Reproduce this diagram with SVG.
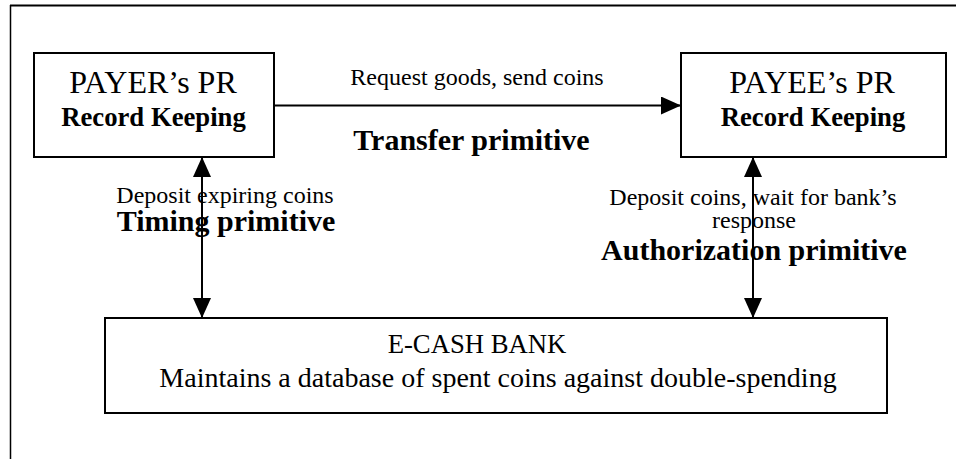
<svg xmlns="http://www.w3.org/2000/svg" width="956" height="459" viewBox="0 0 956 459">
  <style>
    text { font-family: "Liberation Serif", "Times New Roman", serif; fill: #000; text-anchor: middle; }
    .box { fill: #fff; stroke: #000; stroke-width: 2; }
    .frame { fill: none; stroke: #000; }
    .link { fill: none; stroke: #000; stroke-width: 2; }
    .title { font-size: 32px; }
    .sub { font-size: 26.7px; font-weight: bold; }
    .lbl { font-size: 24px; }
    .prim { font-size: 30px; font-weight: bold; }
    .bank { font-size: 26.7px; }
    .bank2 { font-size: 28px; }
  </style>
  <defs>
    <marker id="head" viewBox="0 0 20 18" refX="20" refY="9" markerWidth="20" markerHeight="18" markerUnits="userSpaceOnUse" orient="auto-start-reverse">
      <path d="M0,0 L20,9 L0,18 Z" fill="#000"/>
    </marker>
  </defs>

  <!-- page frame -->
  <g id="frame">
    <line class="frame" x1="10" y1="5.5" x2="956" y2="5.5" stroke-width="2"/>
    <line class="frame" x1="10.5" y1="5" x2="10.5" y2="459" stroke-width="1.5"/>
  </g>

  <!-- connectors -->
  <g id="connectors">
    <line class="link" x1="274" y1="105.5" x2="681" y2="105.5" marker-end="url(#head)"/>
    <line class="link" x1="202" y1="157" x2="202" y2="318" marker-start="url(#head)" marker-end="url(#head)"/>
    <line class="link" x1="753" y1="157" x2="753" y2="318" marker-start="url(#head)" marker-end="url(#head)"/>
  </g>

  <!-- connector labels -->
  <g id="labels">
    <text class="lbl" x="477" y="85">Request goods, send coins</text>
    <text class="prim" x="471.5" y="150">Transfer primitive</text>
    <text class="lbl" x="225" y="203">Deposit expiring coins</text>
    <text class="prim" x="226" y="231">Timing primitive</text>
    <text class="lbl" x="753" y="205">Deposit coins, wait for bank’s</text>
    <text class="lbl" x="754" y="228">response</text>
    <text class="prim" x="754" y="260">Authorization primitive</text>
  </g>

  <g id="payer">
    <rect class="box" x="34" y="53" width="240" height="104"/>
    <text class="title" x="153" y="93">PAYER’s PR</text>
    <text class="sub" x="153.5" y="126">Record Keeping</text>
  </g>

  <g id="payee">
    <rect class="box" x="681" y="53" width="265" height="104"/>
    <text class="title" x="812" y="93">PAYEE’s PR</text>
    <text class="sub" x="813" y="126">Record Keeping</text>
  </g>

  <g id="bank">
    <rect class="box" x="105" y="318" width="782" height="95"/>
    <text class="bank" x="477" y="353">E-CASH BANK</text>
    <text class="bank2" x="498" y="387">Maintains a database of spent coins against double-spending</text>
  </g>
</svg>
